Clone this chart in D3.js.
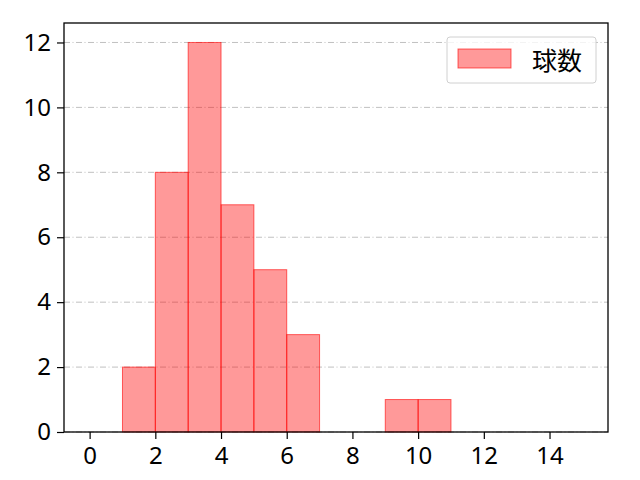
<!DOCTYPE html>
<html>
<head>
<meta charset="utf-8">
<script src="https://cdn.jsdelivr.net/npm/d3@7"></script>
<style>
  body { margin: 0; background: #fff; }
</style>
</head>
<body>
<script>
// histogram bins (left edge, right edge) and counts
var binStart = [1, 2, 3, 4, 5, 6, 9, 10];
var binEnd = [2, 3, 4, 5, 6, 7, 10, 11];
var counts = [2, 8, 12, 7, 5, 3, 1, 1];
var xTicks = [0, 2, 4, 6, 8, 10, 12, 14];
var yTicks = [0, 2, 4, 6, 8, 10, 12];
var seriesName = '球数';

var W = 640, H = 480;
var plotLeft = 64, plotRight = 608, plotTop = 23, plotBottom = 432;

var svg = d3.select('body').append('svg')
  .attr('width', W).attr('height', H);

var x = d3.scaleLinear().domain([-0.78, 15.78]).range([plotLeft, plotRight]);
var y = d3.scaleLinear().domain([0, 12.6]).range([plotBottom, plotTop]);

// grid lines
svg.append('g').selectAll('line').data(yTicks).enter().append('line')
  .attr('x1', plotLeft).attr('x2', plotRight)
  .attr('y1', function(d) { return y(d); })
  .attr('y2', function(d) { return y(d); })
  .attr('stroke', '#b0b0b0')
  .attr('stroke-width', 0.8)
  .attr('stroke-dasharray', '6,2.5,1,2.5');

// bars
svg.append('g').selectAll('rect').data(counts).enter().append('rect')
  .attr('x', function(d, i) { return x(binStart[i]); })
  .attr('width', function(d, i) { return x(binEnd[i]) - x(binStart[i]); })
  .attr('y', function(d) { return y(d); })
  .attr('height', function(d) { return y(0) - y(d); })
  .attr('fill', 'rgba(255,0,0,0.4)')
  .attr('stroke', 'rgba(255,0,0,0.6)')
  .attr('stroke-width', 1);

// frame
svg.append('rect')
  .attr('x', plotLeft).attr('y', plotTop)
  .attr('width', plotRight - plotLeft).attr('height', plotBottom - plotTop)
  .attr('fill', 'none').attr('stroke', '#000').attr('stroke-width', 1.3);

// axes
var xAxis = svg.append('g')
  .attr('transform', 'translate(0,' + plotBottom + ')')
  .call(d3.axisBottom(x).tickValues(xTicks).tickSize(7).tickPadding(8).tickFormat(d3.format('d')));
var yAxis = svg.append('g')
  .attr('transform', 'translate(' + plotLeft + ',0)')
  .call(d3.axisLeft(y).tickValues(yTicks).tickSize(7).tickPadding(6).tickFormat(d3.format('d')));

[xAxis, yAxis].forEach(function(a) {
  a.select('.domain').remove();
  a.selectAll('line').attr('stroke', '#000').attr('stroke-width', 1.2);
  a.selectAll('text')
    .style('fill', '#000')
    .style('font-size', '24px')
    .style('font-family', '"Noto Sans", "DejaVu Sans", sans-serif');
});

// legend
var legend = svg.append('g');
legend.append('rect')
  .attr('x', 447).attr('y', 37).attr('width', 149).attr('height', 46)
  .attr('rx', 3).attr('fill', '#fff').attr('fill-opacity', 0.8)
  .attr('stroke', '#d0d0d0').attr('stroke-width', 1);
legend.append('rect')
  .attr('x', 458).attr('y', 49).attr('width', 53).attr('height', 19)
  .attr('fill', 'rgba(255,0,0,0.4)')
  .attr('stroke', 'rgba(255,0,0,0.6)').attr('stroke-width', 1);
legend.append('text')
  .attr('x', 532).attr('y', 70)
  .style('font-size', '25px')
  .style('font-family', '"Noto Sans CJK JP", sans-serif')
  .style('fill', '#000')
  .text(seriesName);
</script>
</body>
</html>
